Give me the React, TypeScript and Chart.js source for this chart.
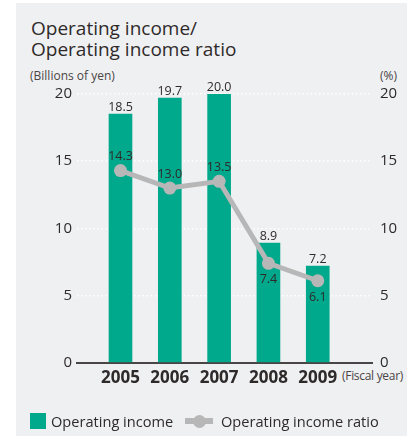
import React, { useEffect, useRef } from "react";
import { Chart, registerables } from "chart.js";

Chart.register(...registerables);

const categories = ["2005", "2006", "2007", "2008", "2009"];
const operatingIncome = [18.5, 19.7, 20.0, 8.9, 7.2];
const operatingIncomeRatio = [14.3, 13.0, 13.5, 7.4, 6.1];
const ratioLabelSide = ["above", "above", "above", "below", "below"];
const yTicks = [0, 5, 10, 15, 20];

const FONT = '"Open Sans", "Noto Sans", sans-serif';
const GREEN = "#00a98b";
const GREY_LINE = "#b7b7b7";
const TEXT = "#2f2a2a";

const labelsPlugin = {
  id: "valueLabels",
  afterDatasetsDraw(chart: any) {
    const ctx = chart.ctx;
    ctx.save();
    ctx.fillStyle = TEXT;
    ctx.textAlign = "center";
    ctx.textBaseline = "alphabetic";
    ctx.font = `12.5px ${FONT}`;
    const barMeta = chart.getDatasetMeta(1);
    barMeta.data.forEach((el: any, i: number) => {
      ctx.fillText(operatingIncome[i].toFixed(1), el.x, el.y - 3);
    });
    const lineMeta = chart.getDatasetMeta(0);
    lineMeta.data.forEach((el: any, i: number) => {
      const y = ratioLabelSide[i] === "above" ? el.y - 10.5 : el.y + 20;
      ctx.fillText(operatingIncomeRatio[i].toFixed(1), el.x, y);
    });
    ctx.restore();
  },
};

export default function App() {
  const ref = useRef<HTMLCanvasElement | null>(null);

  useEffect(() => {
    document.body.style.margin = "0";
    const canvas = ref.current;
    if (!canvas) return;
    const chart = new Chart(canvas, {
      type: "bar",
      data: {
        datasets: [
          {
            type: "line",
            label: "Operating income ratio",
            data: operatingIncomeRatio.map((v, i) => ({ x: i, y: v })),
            xAxisID: "x",
            yAxisID: "y1",
            borderColor: GREY_LINE,
            backgroundColor: GREY_LINE,
            borderWidth: 5,
            pointRadius: 6.5,
            pointBackgroundColor: GREY_LINE,
            pointBorderWidth: 0,
            tension: 0,
            order: 0,
          } as any,
          {
            type: "bar",
            label: "Operating income",
            data: operatingIncome.map((v, i) => ({ x: i, y: v })),
            xAxisID: "x",
            yAxisID: "y",
            backgroundColor: GREEN,
            barThickness: 23,
            order: 1,
          } as any,
        ],
      },
      plugins: [labelsPlugin],
      options: {
        responsive: false,
        animation: false,
        layout: { padding: { top: 94, left: 0, right: 0, bottom: 0 } },
        plugins: {
          legend: { display: false },
          tooltip: { enabled: false },
        },
        scales: {
          x: {
            type: "linear",
            offset: false,
            min: -0.882,
            max: 5.1,
            afterBuildTicks: (scale: any) => {
              scale.ticks = categories.map((_, i) => ({ value: i }));
            },
            afterFit: (scale: any) => {
              scale.height = 73.3;
            },
            ticks: {
              autoSkip: false,
              maxRotation: 0,
              padding: 5,
              color: TEXT,
              font: { family: FONT, size: 17, weight: "bold" },
              callback: (v: any) => categories[v] ?? "",
            },
            grid: { display: false, drawTicks: false, offset: false },
            border: { display: true, color: "#4a4545", width: 2 },
          },
          y: {
            position: "left",
            min: 0,
            max: 20,
            afterBuildTicks: (scale: any) => {
              scale.ticks = yTicks.map((v) => ({ value: v }));
            },
            afterFit: (scale: any) => {
              scale.width = 77;
            },
            ticks: {
              padding: 5,
              color: TEXT,
              font: { family: FONT, size: 15 },
            },
            grid: {
              drawTicks: false,
              lineWidth: 1.5,
              color: (c: any) => (c.tick && c.tick.value === 0 ? "rgba(0,0,0,0)" : "#ffffff"),
            },
            border: { display: false, dash: [1.5, 2.6] },
          },
          y1: {
            position: "right",
            min: 0,
            max: 20,
            afterBuildTicks: (scale: any) => {
              scale.ticks = yTicks.map((v) => ({ value: v }));
            },
            afterFit: (scale: any) => {
              scale.width = 35;
            },
            ticks: {
              padding: 8,
              color: TEXT,
              font: { family: FONT, size: 15 },
            },
            grid: { display: false, drawTicks: false },
            border: { display: false },
          },
        },
      } as any,
    });
    return () => chart.destroy();
  }, []);

  const base: React.CSSProperties = {
    position: "absolute",
    fontFamily: FONT,
    whiteSpace: "nowrap",
    color: TEXT,
  };

  return (
    <div style={{ position: "relative", width: 407, height: 436, background: "#ffffff", overflow: "hidden" }}>
      <div style={{ position: "absolute", left: 16, top: 3, width: 391, height: 433, background: "#eff0f2" }} />
      <div style={{ ...base, left: 31, top: 18, fontSize: 19, lineHeight: "21px" }}>
        Operating income/
        <br />
        Operating income ratio
      </div>
      <div style={{ ...base, left: 30, top: 69, fontSize: 12, lineHeight: "14px", color: "#4a4545" }}>(Billions of yen)</div>
      <div style={{ ...base, left: 380, top: 69, fontSize: 12, lineHeight: "14px", color: "#4a4545" }}>(%)</div>
      <div style={{ ...base, left: 342, top: 369, fontSize: 12, lineHeight: "14px", color: "#4a4545", letterSpacing: "-0.3px" }}>(Fiscal year)</div>
      <canvas ref={ref} width={407} height={436} style={{ position: "absolute", left: 0, top: 0 }} />
      <div style={{ position: "absolute", left: 30, top: 413, width: 16, height: 16, background: GREEN }} />
      <div style={{ ...base, left: 51, top: 412, fontSize: 14.6, lineHeight: "18px" }}>Operating income</div>
      <div style={{ position: "absolute", left: 185, top: 418, width: 28, height: 6, background: GREY_LINE }} />
      <div style={{ position: "absolute", left: 192.5, top: 414.5, width: 13, height: 13, borderRadius: "50%", background: GREY_LINE }} />
      <div style={{ ...base, left: 221, top: 412, fontSize: 14.6, lineHeight: "18px" }}>Operating income ratio</div>
    </div>
  );
}
